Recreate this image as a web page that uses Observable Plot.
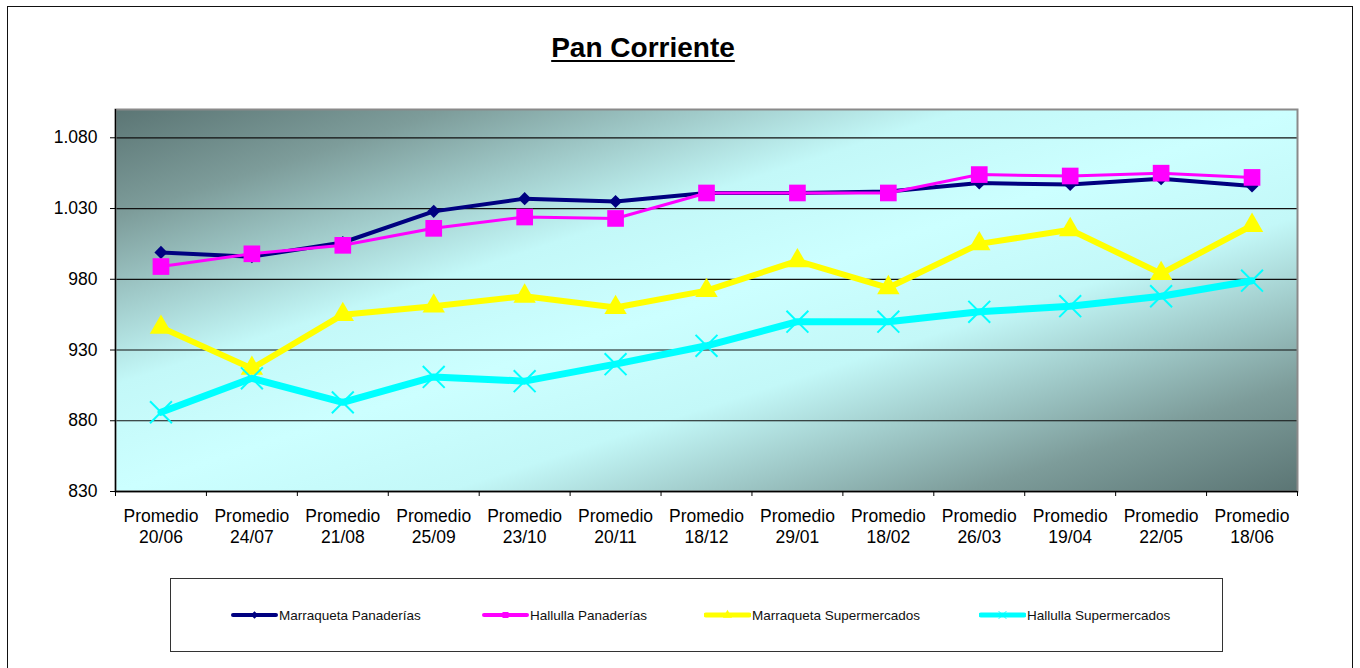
<!DOCTYPE html>
<html>
<head>
<meta charset="utf-8">
<script src="https://cdn.jsdelivr.net/npm/d3@7"></script>
<script src="https://cdn.jsdelivr.net/npm/@observablehq/plot@0.6"></script>
<style>
  html, body { margin: 0; padding: 0; background: #fff; }
  #wrap { position: relative; width: 1360px; height: 668px; overflow: hidden; font-family: "Liberation Sans", Arial, sans-serif; }
  #border { position: absolute; left: 7px; top: 6px; width: 1346px; height: 700px; border: 1px solid #111; box-sizing: border-box; }
  #title { position: absolute; left: 0; top: 34px; width: 1286px; text-align: center; font-size: 28px; font-weight: bold; line-height: 28px; text-decoration: underline; text-decoration-thickness: 2px; text-underline-offset: 3px; color: #000; }
  #chart { position: absolute; left: 0; top: 0; }
  #legend { position: absolute; left: 170px; top: 578px; width: 1053px; height: 74px; border: 1px solid #333; box-sizing: border-box; }
  .item { position: absolute; top: 27px; height: 18px; display: flex; align-items: center; font-size: 13.5px; color: #111; white-space: nowrap; }
  .item svg { margin-right: 1px; }
</style>
</head>
<body>
<div id="wrap">
  <div id="border"></div>
  <div id="title">Pan Corriente</div>
  <div id="chart"></div>
  <div id="legend"></div>
</div>
<script>
// ---- data ----
const dates = ["20/06","24/07","21/08","25/09","23/10","20/11","18/12","29/01","18/02","26/03","19/04","22/05","18/06"];
const tickPrefix = "Promedio";
const seriesNames = ["Marraqueta Panaderías","Hallulla Panaderías","Marraqueta Supermercados","Hallulla Supermercados"];
const marraquetaPanaderias = [999, 996, 1006, 1028, 1037, 1035, 1041, 1041, 1042, 1048, 1047, 1051, 1046];
const hallullaPanaderias   = [989, 998, 1004, 1016, 1024, 1023, 1041, 1041, 1041, 1054, 1053, 1055, 1052];
const marraquetaSuper      = [946, 917, 955, 961, 968, 960, 972, 993, 974, 1005, 1015, 984, 1018];
const hallullaSuper        = [886, 910, 893, 911, 908, 920, 933, 950, 950, 957, 961, 968, 979];
const yTicks = [830, 880, 930, 980, 1030, 1080];
const yDomain = [830, 1100];

// ---- styles ----
const styles = [
  {color: "#000080", width: 4, symbol: "diamond2", r: 5.9, fill: true},
  {color: "#ff00ff", width: 3, symbol: "square", r: 9.4, fill: true},
  {color: "#ffff00", width: 6, symbol: "triangle", r: 8.3, fill: true},
  {color: "#00ffff", width: 7, symbol: "times", r: 10, fill: false}
];
const allValues = [marraquetaPanaderias, hallullaPanaderias, marraquetaSuper, hallullaSuper];

const loc = d3.formatLocale({decimal: ",", thousands: ".", grouping: [3], currency: ["$", ""]});
const fmt = loc.format(",.0f");

const indices = d3.range(dates.length);
const boundaries = d3.range(dates.length + 1).map(i => i - 0.5);

const seriesMarks = [];
allValues.forEach((vals, k) => {
  const rows = vals.map((v, i) => ({i, v}));
  const st = styles[k];
  seriesMarks.push(Plot.line(rows, {x: "i", y: "v", stroke: st.color, strokeWidth: st.width, strokeLinejoin: "round"}));
  if (st.fill) {
    seriesMarks.push(Plot.dot(rows, {x: "i", y: "v", symbol: st.symbol, r: st.r, fill: st.color, stroke: "none"}));
  } else {
    seriesMarks.push(Plot.dot(rows, {x: "i", y: "v", symbol: st.symbol, r: st.r, fill: "none", stroke: st.color, strokeWidth: 2}));
  }
});

const chart = Plot.plot({
  width: 1360,
  height: 560,
  marginLeft: 115,
  marginRight: 63,
  marginTop: 109,
  marginBottom: 69,
  x: {type: "linear", domain: [-0.5, dates.length - 0.5], label: null},
  y: {domain: yDomain, label: null},
  style: {fontFamily: "'Liberation Sans', Arial, sans-serif", fontSize: "17.5px", color: "#000", background: "transparent", overflow: "visible"},
  marks: [
    Plot.frame({fill: "url(#bgGrad)"}),
    Plot.ruleY(yTicks.slice(1), {stroke: "#111", strokeWidth: 1.2}),
    Plot.frame({stroke: "#8a8a8a", strokeWidth: 2}),
    Plot.ruleY([yDomain[0]], {stroke: "#000", strokeWidth: 1.3}),
    Plot.ruleX([boundaries[0]], {stroke: "#000", strokeWidth: 1.3}),
    Plot.axisY(yTicks, {tickSize: 5, tickPadding: 13, tickFormat: fmt, stroke: "#000", label: null}),
    Plot.axisX(boundaries, {tickSize: 5, tickFormat: () => "", stroke: "#000", label: null}),
    Plot.axisX(indices, {tickSize: 0, tickPadding: 15, lineHeight: 1.22, label: null, tickFormat: i => tickPrefix + "\n" + dates[i]}),
    ...seriesMarks
  ]
});

// gradient background definition
const svg = d3.select(chart.tagName.toLowerCase() === "svg" ? chart : chart.querySelector("svg"));
const defs = svg.insert("defs", ":first-child");
const grad = defs.append("linearGradient").attr("id", "bgGrad")
  .attr("x1", 0).attr("y1", 0).attr("x2", 1).attr("y2", 1);
[[0, "#5b7574"], [0.14, "#7d9c9a"], [0.36, "#c3f8f8"], [0.5, "#ccffff"], [0.64, "#c3f8f8"], [0.86, "#7d9c9a"], [1, "#5b7574"]]
  .forEach(([o, c]) => grad.append("stop").attr("offset", o).attr("stop-color", c));

document.getElementById("chart").appendChild(chart);

// legend
const legendLeft = [60, 311, 533, 808];
const legend = document.getElementById("legend");
seriesNames.forEach((name, k) => {
  const st = styles[k];
  const item = document.createElement("div");
  item.className = "item";
  item.style.left = legendLeft[k] + "px";
  const s = d3.create("svg").attr("width", 47).attr("height", 14);
  s.append("line").attr("x1", 2).attr("x2", 45).attr("y1", 7).attr("y2", 7)
    .attr("stroke", st.color).attr("stroke-width", k < 2 ? 4 : 5).attr("stroke-linecap", "round");
  const sym = {diamond2: d3.symbolDiamond2, square: d3.symbolSquare, triangle: d3.symbolTriangle, times: d3.symbolTimes}[st.symbol];
  const p = s.append("path").attr("transform", "translate(23.5,7)").attr("d", d3.symbol(sym, k === 3 ? 40 : 36)());
  if (st.fill) p.attr("fill", st.color); else p.attr("fill", "none").attr("stroke", st.color).attr("stroke-width", 1);
  item.appendChild(s.node());
  const t = document.createElement("span");
  t.textContent = name;
  item.appendChild(t);
  legend.appendChild(item);
});
</script>
</body>
</html>
